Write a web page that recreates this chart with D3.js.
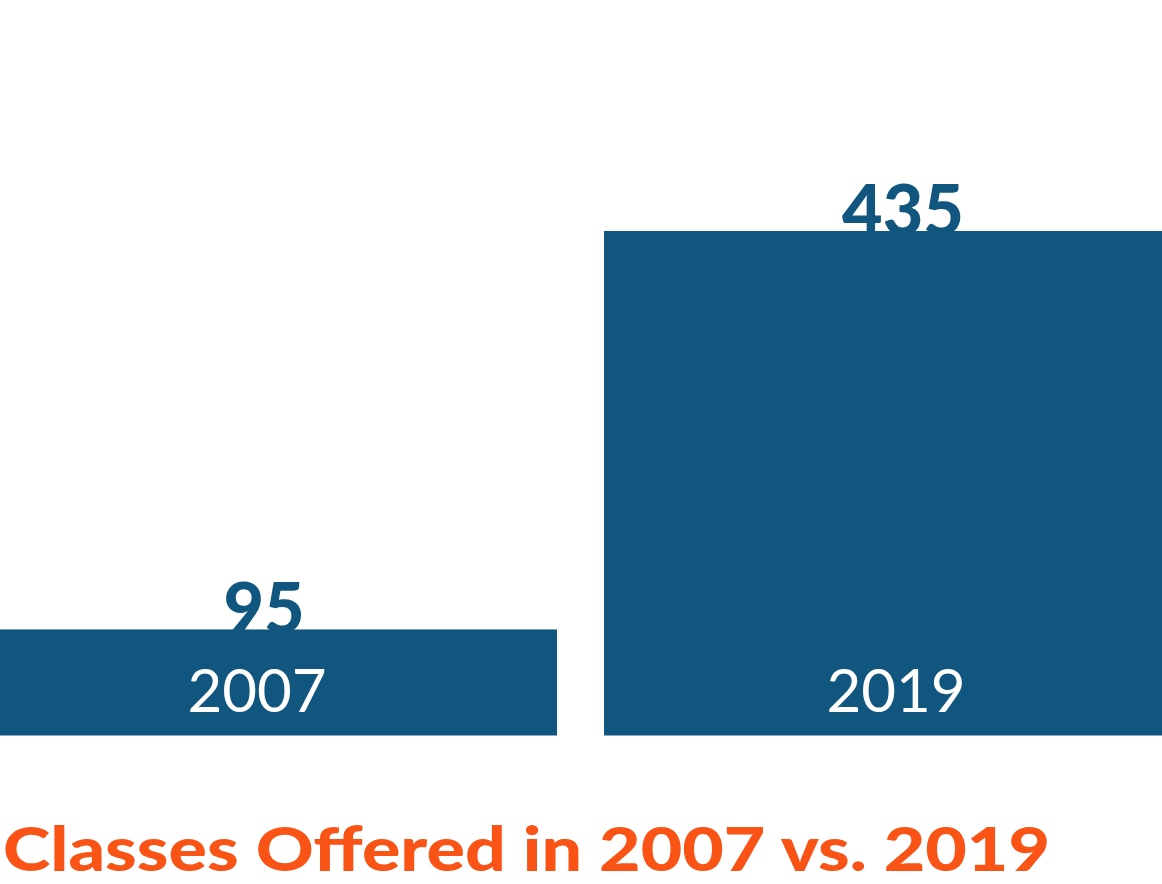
<!DOCTYPE html>
<html><head><meta charset="utf-8">
<script src="https://cdn.jsdelivr.net/npm/d3@7"></script>
<style>html,body{margin:0;padding:0;background:#fff;overflow:hidden}</style>
</head><body>
<svg id="c" width="1162" height="884"></svg>
<script>
const years = ["2007", "2019"];
const classes = [95, 435];
const title = "Classes Offered in 2007 vs. 2019";

const svg = d3.select("#c");
const x = d3.scaleBand().domain(years).range([-35, 1196]).paddingInner(0.0736).paddingOuter(0);
const y = d3.scaleLinear().domain([4.5, 435]).range([735.5, 231]);
const barColor = "#11567f";

const data = years.map((yr, i) => ({yr, v: classes[i]}));

// value labels (drawn first so bars overlap their bottoms)
svg.selectAll("text.val").data(data).join("text")
  .attr("class", "val")
  .attr("x", d => x(d.yr) + x.bandwidth() / 2 + 3)
  .attr("y", d => y(d.v) + 4)
  .attr("text-anchor", "middle")
  .attr("font-family", "Lato")
  .attr("font-weight", 900)
  .attr("font-size", 70)
  .attr("fill", barColor)
  .text(d => d.v);

svg.selectAll("rect.bar").data(data).join("rect")
  .attr("class", "bar")
  .attr("x", d => x(d.yr))
  .attr("y", d => y(d.v))
  .attr("width", x.bandwidth())
  .attr("height", d => y(y.domain()[0]) - y(d.v))
  .attr("fill", barColor);

svg.selectAll("text.yr").data(data).join("text")
  .attr("class", "yr")
  .attr("x", d => x(d.yr) + x.bandwidth() / 2 - 4)
  .attr("y", 712)
  .attr("text-anchor", "middle")
  .attr("font-family", "Lato")
  .attr("font-weight", 400)
  .attr("font-size", 60)
  .attr("fill", "#ffffff")
  .text(d => d.yr);

svg.append("text")
  .attr("x", 3)
  .attr("y", 871)
  .attr("font-family", "Lato")
  .attr("font-weight", 900)
  .attr("font-size", 60)
  .attr("fill", "#f95316")
  .attr("textLength", 1047)
  .attr("lengthAdjust", "spacingAndGlyphs")
  .text(title);
</script>
</body></html>
